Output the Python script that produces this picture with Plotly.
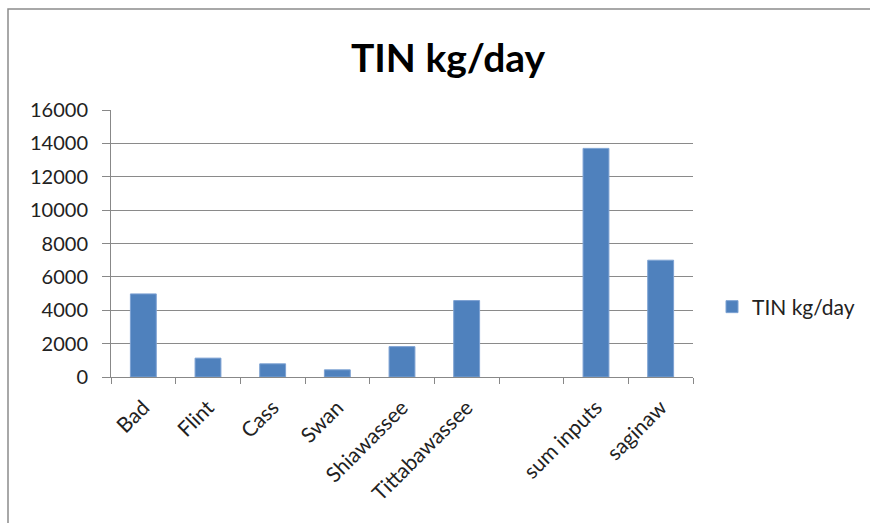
import plotly.graph_objects as go

categories = ["Bad", "Flint", "Cass", "Swan", "Shiawassee", "Tittabawassee", " ", "sum inputs", "saginaw"]
values = [4980, 1130, 790, 430, 1820, 4580, None, 13700, 7000]
series_name = "TIN kg/day"
y_ticks = [0, 2000, 4000, 6000, 8000, 10000, 12000, 14000, 16000]

W, H = 870, 523
L, R, T, B = 111, 177, 110, 146
pw, ph = W - L - R, H - T - B

def px_x(x):
    return (x - L) / pw

def px_y(y):
    return (H - B - y) / ph

FONT = "Lato, Carlito, Calibri, sans-serif"

fig = go.Figure()
fig.add_trace(go.Bar(
    x=categories, y=values, name=series_name,
    marker=dict(color="#4F81BD", line=dict(color="#7DA2D3", width=1)),
    width=0.4, showlegend=True,
))

fig.update_layout(
    width=W, height=H,
    margin=dict(l=L, r=R, t=T, b=B, autoexpand=False),
    paper_bgcolor="white", plot_bgcolor="white",
    font=dict(family=FONT, size=19, color="#222"),
    title=dict(text="<b>TIN kg/day</b>", x=px_x(448), xref="paper", xanchor="center",
               y=1 - 58 / H, yanchor="middle",
               font=dict(size=39, family=FONT, color="#000")),
    legend=dict(x=px_x(712), y=px_y(307), xref="paper", yref="paper",
                xanchor="left", yanchor="middle",
                font=dict(size=21, color="#222"), itemwidth=30, bgcolor="rgba(0,0,0,0)"),
    shapes=[dict(type="rect", xref="paper", yref="paper",
                 x0=px_x(8), x1=px_x(900), y0=px_y(560), y1=px_y(9),
                 line=dict(color="#8c8c8c", width=1.5), fillcolor="rgba(0,0,0,0)",
                 layer="below")],
)
fig.update_xaxes(
    type="category", showgrid=False, showline=True, linecolor="#888", linewidth=1,
    ticks="outside", tickson="boundaries", ticklen=6, tickcolor="#888",
    tickangle=-45, tickfont=dict(size=21), zeroline=False, ticklabelstandoff=9,
)
fig.update_yaxes(
    range=[0, 16000], tickvals=y_ticks, ticktext=[str(v) for v in y_ticks],
    showgrid=True, gridcolor="#8a8a8a", gridwidth=1,
    showline=True, linecolor="#888", linewidth=1,
    ticks="outside", ticklen=8, tickcolor="#888", zeroline=False,
    tickfont=dict(size=20), ticklabelstandoff=10,
)

fig.write_html("out.html", config={"displayModeBar": False},
               post_script="document.body.style.margin='0';document.body.style.padding='0';")
